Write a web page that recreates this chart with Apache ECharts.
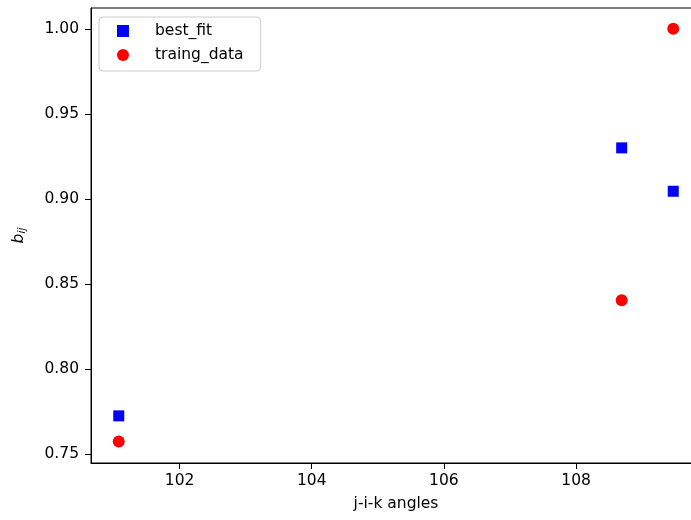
<!DOCTYPE html>
<html>
<head>
<meta charset="utf-8">
<script src="https://cdn.jsdelivr.net/npm/echarts@6/dist/echarts.min.js"></script>
<style>
html,body{margin:0;padding:0;background:#fff;overflow:hidden;width:691px;height:520px;}
#chart{width:701px;height:520px;}
</style>
</head>
<body>
<div id="chart"></div>
<script>
var angles = [101.08, 108.69, 109.47];
var bestFit = [0.7725, 0.930, 0.9045];
var trainingData = [0.7575, 0.8405, 1.000];
var xTicks = [102, 104, 106, 108];
var yTicks = [0.75, 0.80, 0.85, 0.90, 0.95, 1.00];

function pairs(xs, ys) {
  return xs.map(function (x, i) { return [x, ys[i]]; });
}

var font = 'DejaVu Sans';
var fs = 15.5;
var chart = echarts.init(document.getElementById('chart'), null, {renderer: 'canvas'});
chart.setOption({
  animation: false,
  backgroundColor: '#ffffff',
  textStyle: {fontFamily: font},
  grid: {
    left: 91, right: 0, top: 8, bottom: 57,
    show: true, borderColor: '#000', borderWidth: 1, backgroundColor: 'transparent'
  },
  legend: {
    orient: 'vertical',
    left: 99, top: 17,
    padding: [6, 17, 8, 18],
    itemGap: 8,
    itemWidth: 12, itemHeight: 12,
    backgroundColor: 'rgba(255,255,255,0.8)',
    borderColor: '#cccccc', borderWidth: 1, borderRadius: 4,
    textStyle: {fontFamily: font, fontSize: fs, color: '#000', padding: [0, 0, 0, 21]},
    data: [{name: 'best_fit', icon: 'rect'}, {name: 'traing_data', icon: 'circle'}]
  },
  xAxis: {
    type: 'value',
    min: 100.66, max: 109.89,
    name: 'j-i-k angles',
    nameLocation: 'middle',
    nameGap: 33,
    nameTextStyle: {fontFamily: font, fontSize: fs, color: '#000'},
    splitLine: {show: false},
    axisLine: {show: true, onZero: false, lineStyle: {color: '#000', width: 1}},
    axisTick: {show: true, length: 6, lineStyle: {color: '#000'}, customValues: xTicks},
    axisLabel: {fontFamily: font, fontSize: fs, color: '#000', margin: 10, customValues: xTicks,
      formatter: function (v) { return String(Math.round(v)); }}
  },
  yAxis: {
    type: 'value',
    min: 0.7448, max: 1.0122,
    name: '{b|b}{s|ij}',
    nameLocation: 'middle',
    nameRotate: 90,
    nameGap: 63,
    nameTextStyle: {
      color: '#000',
      rich: {
        b: {fontFamily: font, fontStyle: 'italic', fontSize: fs, color: '#000'},
        s: {fontFamily: font, fontStyle: 'italic', fontSize: 10.8, color: '#000', verticalAlign: 'bottom', padding: [7, 0, 0, 0]}
      }
    },
    splitLine: {show: false},
    axisLine: {show: true, onZero: false, lineStyle: {color: '#000', width: 1}},
    axisTick: {show: true, length: 6, lineStyle: {color: '#000'}, customValues: yTicks},
    axisLabel: {fontFamily: font, fontSize: fs, color: '#000', margin: 12, customValues: yTicks,
      formatter: function (v) { return v.toFixed(2); }}
  },
  series: [
    {
      name: 'best_fit', type: 'scatter', symbol: 'rect', symbolSize: 11,
      itemStyle: {color: '#0000ff', opacity: 1},
      data: pairs(angles, bestFit), z: 3
    },
    {
      name: 'traing_data', type: 'scatter', symbol: 'circle', symbolSize: 12,
      itemStyle: {color: '#ff0000', opacity: 1},
      data: pairs(angles, trainingData), z: 3
    }
  ]
});
</script>
</body>
</html>
